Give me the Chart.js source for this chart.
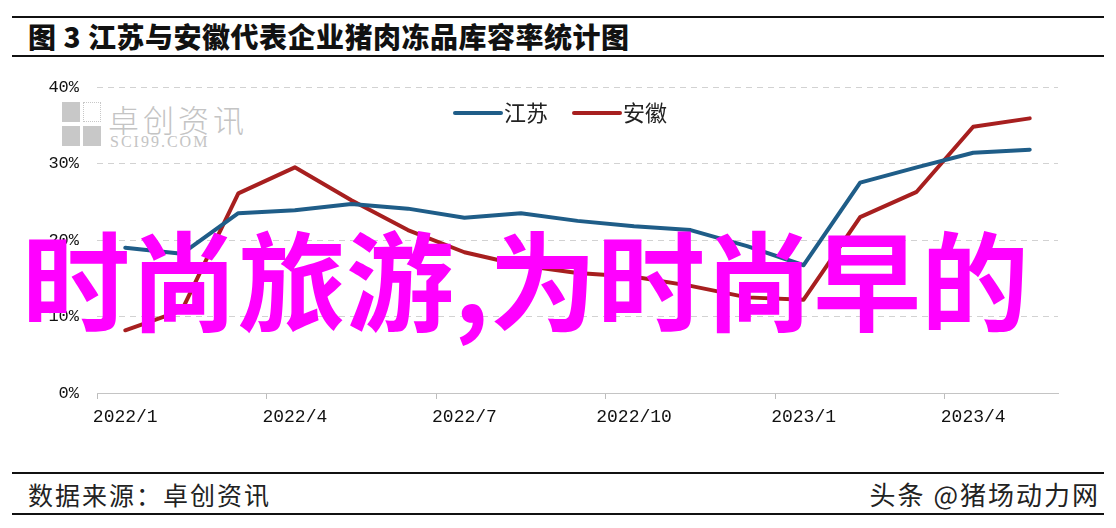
<!DOCTYPE html>
<html>
<head>
<meta charset="utf-8">
<script src="https://cdn.jsdelivr.net/npm/chart.js@4/dist/chart.umd.min.js"></script>
<style>
  html, body { margin: 0; padding: 0; background: #fff; }
  #wrap { position: relative; width: 1116px; height: 528px; overflow: hidden; background: #fff; }
  #chart { position: absolute; left: 0; top: 0; z-index: 2; }
  .rule { position: absolute; left: 12px; width: 1092px; height: 2px; background: #111; }
  #title { position: absolute; left: 28px; top: 18px; font: 900 28px "Noto Sans CJK SC", sans-serif; color: #111; white-space: nowrap; line-height: 36px; letter-spacing: 0.5px; }
  #srcL { position: absolute; left: 28px; top: 477px; font: 400 25px "Noto Sans CJK SC", sans-serif; color: #222; line-height: 34px; letter-spacing: 2px; }
  #srcR { position: absolute; right: 16px; top: 477px; font: 400 26px "Noto Sans CJK SC", sans-serif; color: #222; line-height: 34px; letter-spacing: 2px; }
  #wm { position: absolute; left: 62px; top: 102px; z-index: 1; color: #c4c4c4; }
  #wm .sq { position: absolute; width: 18px; height: 20px; background: #c8c8c8; }
  #wm .cn { position: absolute; left: 46px; top: -6px; font: 300 31px "Noto Sans CJK SC", sans-serif; white-space: nowrap; letter-spacing: 4px; }
  #wm .en { position: absolute; left: 48px; top: 31px; font: 16px "Liberation Serif", serif; letter-spacing: 2px; white-space: nowrap; }
  #overlay { position: absolute; left: 22px; top: 206px; z-index: 3; font: 700 108px "Noto Sans CJK SC", sans-serif; color: #ff00ff; white-space: nowrap; line-height: 140px; }
</style>
</head>
<body>
<div id="wrap">
  <div class="rule" style="top:16px"></div>
  <div id="title">图 3 江苏与安徽代表企业猪肉冻品库容率统计图</div>
  <div class="rule" style="top:55px"></div>

  <div id="wm">
    <div class="sq" style="left:0;top:0"></div>
    <div class="sq" style="left:21px;top:0;background:none;border:1px dotted #c8c8c8;width:16px;height:18px"></div>
    <div class="sq" style="left:0;top:24px"></div>
    <div class="sq" style="left:21px;top:24px"></div>
    <div class="cn">卓创资讯</div>
    <div class="en">SCI99.COM</div>
  </div>

  <canvas id="chart" width="1116" height="528"></canvas>

  <div id="overlay">时尚旅游,为时尚早的</div>

  <div class="rule" style="top:472px"></div>
  <div id="srcL">数据来源：卓创资讯</div>
  <div id="srcR">头条 @猪场动力网</div>
  <div class="rule" style="top:513px"></div>
</div>

<script>
// months 2022/1 - 2023/5
var months = ['2022/1','2022/2','2022/3','2022/4','2022/5','2022/6','2022/7','2022/8','2022/9',
              '2022/10','2022/11','2022/12','2023/1','2023/2','2023/3','2023/4','2023/5'];
var seriesNames = ['江苏', '安徽'];
var jiangsu = [19.0, 18.2, 23.5, 23.9, 24.7, 24.1, 22.9, 23.5, 22.5, 21.8, 21.3, 19.2, 16.7, 27.5, 29.5, 31.4, 31.8];
var anhui   = [8.2, 10.8, 26.1, 29.5, 25.2, 21.3, 18.4, 16.7, 15.7, 15.2, 14.0, 12.5, 12.2, 23.0, 26.3, 34.8, 35.9];
var yTicks = [0, 10, 20, 30, 40];

var topLegend = {
  id: 'topLegend',
  afterDraw: function(chart) {
    var ctx = chart.ctx;
    var sets = chart.data.datasets;
    var lineLen = 48, gap = 3, spacing = 24;
    ctx.save();
    ctx.font = '22px "Noto Sans CJK SC"';
    var widths = sets.map(function(d) { return ctx.measureText(d.label).width; });
    var total = widths.reduce(function(a, w) { return a + lineLen + gap + w; }, 0) + spacing * (sets.length - 1);
    var x = 560 - total / 2, y = 113;
    sets.forEach(function(d, i) {
      ctx.strokeStyle = d.borderColor;
      ctx.lineWidth = 4;
      ctx.lineCap = 'round';
      ctx.beginPath();
      ctx.moveTo(x + 2, y);
      ctx.lineTo(x + lineLen, y);
      ctx.stroke();
      x += lineLen + gap;
      ctx.fillStyle = '#222';
      ctx.textBaseline = 'middle';
      ctx.fillText(d.label, x, y);
      x += widths[i] + spacing;
    });
    ctx.restore();
  }
};

var ctx = document.getElementById('chart').getContext('2d');
new Chart(ctx, {
  type: 'line',
  data: {
    labels: months,
    datasets: [{
      label: seriesNames[0],
      data: jiangsu,
      borderColor: '#1f5d88',
      borderWidth: 4,
      pointRadius: 0,
      tension: 0,
      borderCapStyle: 'round',
      borderJoinStyle: 'round'
    }, {
      label: seriesNames[1],
      data: anhui,
      borderColor: '#a71f1f',
      borderWidth: 4,
      pointRadius: 0,
      tension: 0,
      borderCapStyle: 'round',
      borderJoinStyle: 'round'
    }]
  },
  options: {
    responsive: false,
    animation: false,
    layout: { padding: { left: 37, right: 58, top: 87, bottom: 95 } },
    plugins: {
      legend: { display: false },
      title: { display: false },
      tooltip: { enabled: false }
    },
    scales: {
      x: {
        offset: true,
        grid: {
          offset: true,
          drawOnChartArea: false,
          drawTicks: true,
          tickLength: 6,
          color: function(c) { return c.index % 3 === 0 ? '#bdbdbd' : 'rgba(0,0,0,0)'; }
        },
        border: { display: true, color: '#c4c4c4', width: 1 },
        ticks: {
          autoSkip: false,
          maxRotation: 0,
          padding: 7,
          color: '#111',
          font: { family: '"Liberation Mono", monospace', size: 18 },
          callback: function(v, i) { return i % 3 === 0 ? months[i] : ''; }
        },
        afterFit: function(s) { s.height = 40; }
      },
      y: {
        min: 0,
        max: 40,
        afterBuildTicks: function(s) { s.ticks = yTicks.map(function(v) { return { value: v }; }); },
        grid: {
          drawTicks: false,
          color: function(c) { return c.tick && c.tick.value === 0 ? 'rgba(0,0,0,0)' : '#d2d2d2'; }
        },
        border: { display: false, dash: [6, 5] },
        ticks: {
          padding: 18,
          color: '#111',
          font: { family: '"Liberation Mono", monospace', size: 17 },
          callback: function(v) { return v + '%'; }
        },
        afterFit: function(s) { s.width = 60; }
      }
    }
  },
  plugins: [topLegend]
});
</script>
</body>
</html>
